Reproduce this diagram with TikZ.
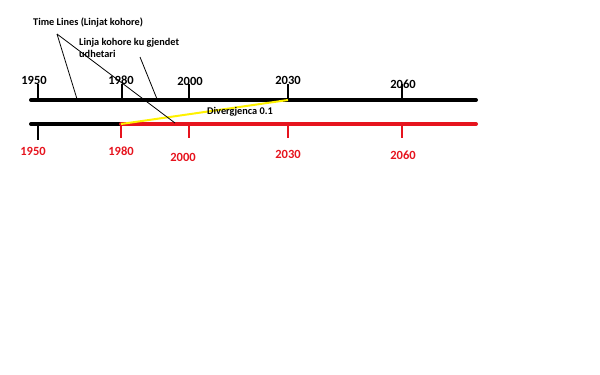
\documentclass[tikz,border=0pt]{standalone}
\usepackage{fontspec}
\setmainfont{Carlito}
\definecolor{linered}{RGB}{230,20,30}
\definecolor{lineyellow}{RGB}{255,242,0}
\tikzset{
  year/.style={font=\bfseries\fontsize{12.5}{14}\selectfont,inner sep=0pt},
  redyear/.style={year,text=linered},
  note/.style={font=\bfseries\fontsize{10.3}{12}\selectfont,inner sep=0pt,align=left},
  lead/.style={black,line width=0.8pt}
}
\begin{document}
\begin{tikzpicture}[x=1pt,y=-1pt]
\useasboundingbox (0,0) rectangle (600,375);
% time line on top
\coordinate (topL) at (31,100);
\coordinate (topR) at (476,100);
\draw[line width=4pt,line cap=round] (topL) -- (topR);
\foreach \x/\yr in {38/1950,122/1980,189/2000,288/2030,402/2060}{
  \coordinate (top\yr) at (\x,100);
  \draw[line width=2pt] (top\yr) -- ++(0,-16);
}
\node[year] (ty1950) at (34,80) {1950};
\node[year] (ty1980) at (121,80) {1980};
\node[year] (ty2000) at (190,81) {2000};
\node[year] (ty2030) at (288,80) {2030};
\node[year] (ty2060) at (403,84) {2060};
% second time line
\coordinate (botL) at (31,124);
\coordinate (botS) at (121,124);
\coordinate (botR) at (476,124);
\draw[line width=4pt,line cap=round] (botL) -- (botS);
\draw[line width=4pt,linered,line cap=round] (botS) -- (botR);
\draw[line width=2pt] (38,124) -- ++(0,16);
\foreach \x/\yr in {121/1980,189/2000,288/2030,402/2060}{
  \coordinate (bot\yr) at (\x,124);
  \draw[line width=2pt,linered] (bot\yr) -- ++(0,14);
}
\node[redyear] (by1950) at (33,151) {1950};
\node[redyear] (by1980) at (121,151) {1980};
\node[redyear] (by2000) at (183,157) {2000};
\node[redyear] (by2030) at (288,154) {2030};
\node[redyear] (by2060) at (403,155) {2060};
% divergence
\draw[lineyellow,line width=2pt] (botS) -- (top2030);
\node[note] (div) at (240,112) {Divergjenca 0.1};
% notes
\node[note,anchor=west] (lines) at (33,23) {Time Lines (Linjat kohore)};
\coordinate (linesPt) at (57,34);
\draw[lead] (linesPt) -- (77,99);
\draw[lead] (linesPt) -- (175,123);
\node[note,anchor=north west] (trav) at (79,38) {Linja kohore ku gjendet\\udhetari};
\draw[lead] (140,57) -- (157,99);
\end{tikzpicture}
\end{document}
